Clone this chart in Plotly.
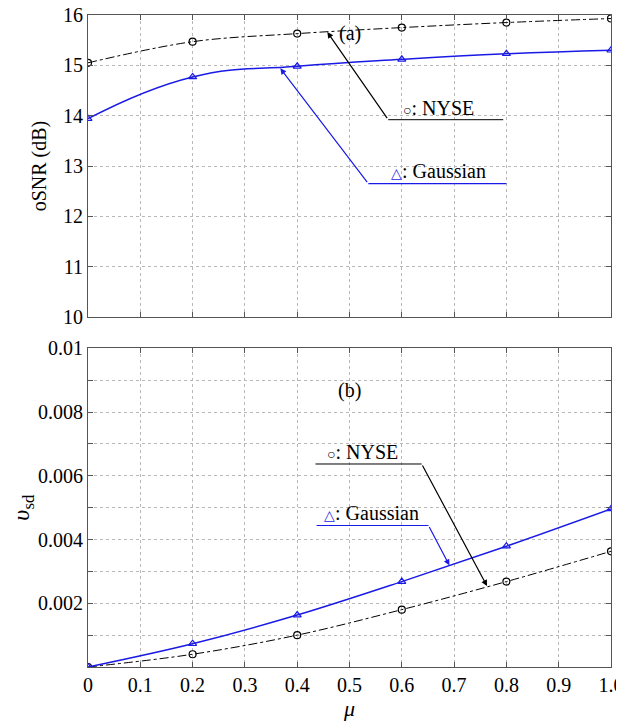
import plotly.graph_objects as go

mu = [0.0, 0.2, 0.4, 0.6, 0.8, 1.0]
osnr_nyse = [15.05, 15.47, 15.63, 15.75, 15.85, 15.93]
osnr_gauss = [13.94, 14.77, 14.98, 15.12, 15.23, 15.30]
vsd_nyse = [0.0, 0.0004, 0.0010, 0.0018, 0.00268, 0.00363]
vsd_gauss = [0.0, 0.00073, 0.00163, 0.00268, 0.00379, 0.00496]

x_ticks = [0, 0.1, 0.2, 0.3, 0.4, 0.5, 0.6, 0.7, 0.8, 0.9, 1.0]
x_labels = ["0", "0.1", "0.2", "0.3", "0.4", "0.5", "0.6", "0.7", "0.8", "0.9", "1.0"]
top_y_ticks = [10, 11, 12, 13, 14, 15, 16]
bot_y_ticks = [0, 0.001, 0.002, 0.003, 0.004, 0.005, 0.006, 0.007, 0.008, 0.009, 0.01]
bot_y_labels = ["", "", "0.002", "", "0.004", "", "0.006", "", "0.008", "", "0.01"]

BLUE = "#1a1ae6"
FONT = "Liberation Serif, Times New Roman, Times, serif"

fig = go.Figure()

fig.add_trace(go.Scatter(x=mu, y=osnr_nyse, mode="lines+markers", line=dict(color="black", width=1, dash="dashdot", shape="spline"),
                         marker=dict(symbol="circle-open", size=7, color="black", line=dict(width=1.2)), xaxis="x", yaxis="y", showlegend=False))
fig.add_trace(go.Scatter(x=mu, y=osnr_gauss, mode="lines+markers", line=dict(color=BLUE, width=1.5, shape="spline", smoothing=1.3),
                         marker=dict(symbol="triangle-up-open", size=7, color=BLUE, line=dict(width=1.2)), xaxis="x", yaxis="y", showlegend=False))
fig.add_trace(go.Scatter(x=mu, y=vsd_nyse, mode="lines+markers", line=dict(color="black", width=1, dash="dashdot", shape="spline"),
                         marker=dict(symbol="circle-open", size=7, color="black", line=dict(width=1.2)), xaxis="x2", yaxis="y2", showlegend=False))
fig.add_trace(go.Scatter(x=mu, y=vsd_gauss, mode="lines+markers", line=dict(color=BLUE, width=1.5, shape="spline"),
                         marker=dict(symbol="triangle-up-open", size=7, color=BLUE, line=dict(width=1.2)), xaxis="x2", yaxis="y2", showlegend=False))

axis_common = dict(showline=True, linecolor="#555555", linewidth=1, mirror="ticks", ticks="inside", ticklen=5,
                   tickcolor="#555555", showgrid=True, gridcolor="#b8b8b8", griddash="dot", gridwidth=1,
                   zeroline=False, automargin=False, ticklabeloverflow="allow",
                   tickfont=dict(family=FONT, size=20, color="black"))

# the page body adds an 8px offset, so the figure is sized to end at the window edge
fig.update_layout(
    template="none",
    width=616, height=714,
    margin=dict(l=80, r=13, t=7, b=55),
    plot_bgcolor="white", paper_bgcolor="white",
    font=dict(family=FONT, size=20, color="black"),
    xaxis=dict(domain=[0, 1], range=[0, 1], tickvals=x_ticks, ticktext=[""] * len(x_ticks), anchor="y", **axis_common),
    yaxis=dict(domain=[0.5368, 1], range=[10, 16], tickvals=top_y_ticks, ticktext=[str(v) for v in top_y_ticks], anchor="x",
               title=dict(text="oSNR (dB)", font=dict(family=FONT, size=20), standoff=10), **axis_common),
    xaxis2=dict(domain=[0, 1], range=[0, 1], tickvals=x_ticks, ticktext=x_labels, anchor="y2",
                title=dict(text="<i>μ</i>", font=dict(family=FONT, size=22), standoff=2), **axis_common),
    yaxis2=dict(domain=[0, 0.4888], range=[0, 0.01], tickvals=bot_y_ticks, ticktext=bot_y_labels, anchor="x2",
                title=dict(text="<i>υ</i><sub>sd</sub>", font=dict(family=FONT, size=24), standoff=4), **axis_common),
)

# Panel labels
fig.add_annotation(x=0.50, y=15.64, xref="x", yref="y", text="(a)", showarrow=False, font=dict(family=FONT, size=20))
fig.add_annotation(x=0.50, y=0.00867, xref="x2", yref="y2", text="(b)", showarrow=False, font=dict(family=FONT, size=20))

circ = '<span style="font-size:14px">○</span>: NYSE'
tri = '<span style="font-size:14px;color:%s">△</span>: Gaussian' % BLUE

# Top panel callouts
fig.add_annotation(x=0.671, y=14.15, xref="x", yref="y", text=circ, showarrow=False, font=dict(family=FONT, size=20))
fig.add_shape(type="line", xref="x", yref="y", x0=0.574, y0=13.92, x1=0.794, y1=13.92, line=dict(color="black", width=1))
fig.add_annotation(x=0.4576, y=15.66, ax=0.574, ay=13.92, xref="x", yref="y", axref="x", ayref="y", text="",
                   showarrow=True, arrowhead=2, arrowsize=1, arrowwidth=1.2, arrowcolor="black")
fig.add_annotation(x=0.671, y=12.91, xref="x", yref="y", text=tri, showarrow=False, font=dict(family=FONT, size=20))
fig.add_shape(type="line", xref="x", yref="y", x0=0.536, y0=12.65, x1=0.80, y1=12.65, line=dict(color=BLUE, width=1.2))
fig.add_annotation(x=0.3677, y=14.94, ax=0.536, ay=12.65, xref="x", yref="y", axref="x", ayref="y", text="",
                   showarrow=True, arrowhead=2, arrowsize=1, arrowwidth=1.2, arrowcolor=BLUE)

# Bottom panel callouts
fig.add_annotation(x=0.524, y=0.00676, xref="x2", yref="y2", text=circ, showarrow=False, font=dict(family=FONT, size=20))
fig.add_shape(type="line", xref="x2", yref="y2", x0=0.435, y0=0.00637, x1=0.638, y1=0.00637, line=dict(color="black", width=1))
fig.add_annotation(x=0.763, y=0.00254, ax=0.638, ay=0.00637, xref="x2", yref="y2", axref="x2", ayref="y2", text="",
                   showarrow=True, arrowhead=2, arrowsize=1, arrowwidth=1.2, arrowcolor="black")
fig.add_annotation(x=0.543, y=0.00482, xref="x2", yref="y2", text=tri, showarrow=False, font=dict(family=FONT, size=20))
fig.add_shape(type="line", xref="x2", yref="y2", x0=0.437, y0=0.00444, x1=0.651, y1=0.00444, line=dict(color=BLUE, width=1.2))
fig.add_annotation(x=0.691, y=0.00319, ax=0.651, ay=0.00444, xref="x2", yref="y2", axref="x2", ayref="y2", text="",
                   showarrow=True, arrowhead=2, arrowsize=1, arrowwidth=1.2, arrowcolor=BLUE)

fig.write_html("out.html")
